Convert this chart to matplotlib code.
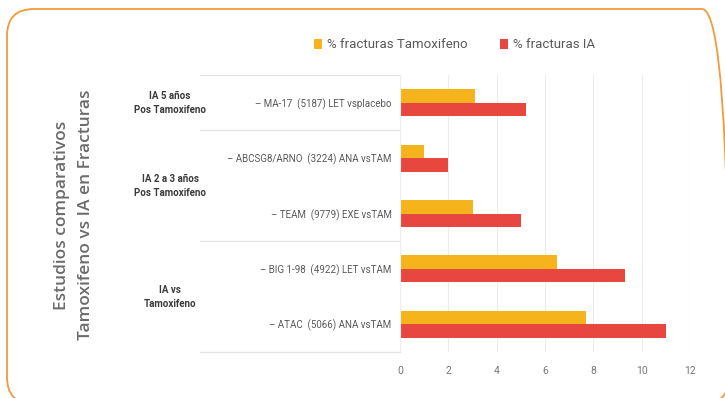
import matplotlib.pyplot as plt
from matplotlib.patches import FancyBboxPatch

# estudios, de arriba hacia abajo
estudios = [
    "– MA-17  (5187) LET vsplacebo",
    "– ABCSG8/ARNO  (3224) ANA vsTAM",
    "– TEAM  (9779) EXE vsTAM",
    "– BIG 1-98  (4922) LET vsTAM",
    "– ATAC  (5066) ANA vsTAM",
]
fract_tam = [3.1, 1.0, 3.0, 6.5, 7.7]
fract_ia = [5.2, 2.0, 5.0, 9.3, 11.0]
grupos = ["IA 5 años\nPos Tamoxifeno", "IA 2 a 3 años\nPos Tamoxifeno", "IA vs\nTamoxifeno"]
grupo_filas = [[0], [1, 2], [3, 4]]
xticks = [0, 2, 4, 6, 8, 10, 12]

amarillo = "#F5B41C"
rojo = "#E8473F"
gris_txt = "#595959"
gris_linea = "#e3e3e3"
fuente = "Roboto"

fig = plt.figure(figsize=(7.25, 3.98), dpi=100)

# fondo en pixeles para el borde redondeado naranja (el borde de abajo queda fuera)
bg = fig.add_axes([0, 0, 1, 1])
bg.set_xlim(0, 725)
bg.set_ylim(0, 398)
bg.axis("off")
bg.add_patch(FancyBboxPatch((7, -6), 722, 395, boxstyle="round,pad=0,rounding_size=27",
                            fill=False, edgecolor="#F39A3B", linewidth=1.3, clip_on=False))

ax = fig.add_axes([400 / 725, 1 - 352 / 398, 290 / 725, 277 / 398])

n = len(estudios)
ys = [n - 1 - i + 0.5 for i in range(n)]
h = 0.245
ax.barh([y + h / 2 for y in ys], fract_tam, height=h, color=amarillo, label="% fracturas Tamoxifeno")
ax.barh([y - h / 2 for y in ys], fract_ia, height=h, color=rojo, label="% fracturas IA")

ax.set_xlim(0, 12)
ax.set_ylim(0, n)
ax.set_xticks(xticks)
ax.set_xticklabels([str(t) for t in xticks], color="#777777", fontsize=7.5, family=fuente)
ax.set_yticks(ys)
ax.set_yticklabels(estudios, color=gris_txt, fontsize=7, family=fuente)
ax.tick_params(length=0, pad=6)
ax.tick_params(axis="x", pad=10)
ax.grid(axis="x", color="#ececec", linewidth=0.8)
ax.set_axisbelow(True)
for s in ax.spines.values():
    s.set_visible(False)

# separadores de grupos que salen hacia la izquierda
for yb in [n, n - 1, n - 3, 0]:
    ax.axhline(yb, xmin=-200 / 290, xmax=0, color=gris_linea, linewidth=0.9, clip_on=False)
ax.axvline(0, color="#eeeeee", linewidth=0.8)

for texto, filas in zip(grupos, grupo_filas):
    yc = sum(ys[i] for i in filas) / len(filas)
    ax.text(-230 / 290 * 12, yc, texto, ha="center", va="center", fontsize=7,
            color="#3a3a3a", fontweight="bold", family=fuente, linespacing=1.5)

fig.legend(loc="center", bbox_to_anchor=(0.627, 1 - 45 / 398), ncol=2, frameon=False,
           prop={"family": fuente, "size": 9.5}, labelcolor=gris_txt,
           handlelength=0.6, handleheight=0.8, handletextpad=0.4, columnspacing=2.4)

fig.text(74 / 725, 1 - 215 / 398, "Estudios comparativos\nTamoxifeno vs IA en Fracturas",
         rotation=90, ha="center", va="center", fontsize=12.5, color="#6b6b6b",
         family="Open Sans", fontweight="semibold", linespacing=1.6)

fig.savefig("out.png", dpi=100)
